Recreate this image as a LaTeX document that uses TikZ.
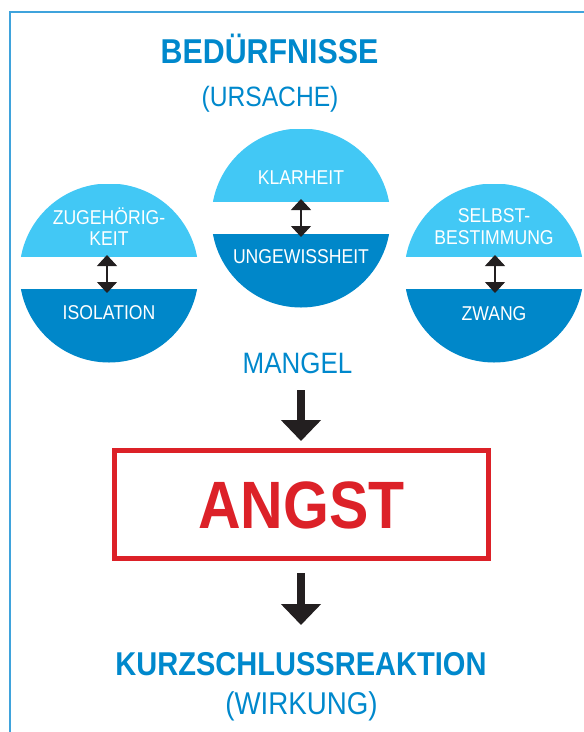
\documentclass[tikz,border=0pt]{standalone}
\usepackage{fontspec}
\setmainfont{Liberation Sans}[FakeStretch=0.88]
\usetikzlibrary{arrows.meta}
\definecolor{tblue}{HTML}{0088CC}
\definecolor{lblue}{HTML}{42C8F5}
\definecolor{dblue}{HTML}{0087C9}
\definecolor{angred}{HTML}{DC2128}
\definecolor{arrk}{HTML}{231F20}
\definecolor{frameblue}{HTML}{3FA3DC}
\tikzset{
  bub/.style={circle, inner sep=0pt, minimum size=179pt,
    path picture={
      \fill[lblue] (path picture bounding box.north west) rectangle ([yshift=16pt]path picture bounding box.east);
      \fill[dblue] ([yshift=-16pt]path picture bounding box.west) rectangle (path picture bounding box.south east);
    }},
  btxt/.style={text=white, font=\fontsize{20}{21}\selectfont, anchor=base, inner sep=0pt},
  dbl/.style={draw=arrk, line width=1.3pt, {Triangle[width=20pt,length=11pt]}-{Triangle[width=20pt,length=11pt]}},
  blockarr/.style={draw=arrk, line width=8pt, -{Triangle[width=39pt,length=21pt]}},
  ttl/.style={text=tblue, anchor=base, inner sep=0pt}
}
\begin{document}
\begin{tikzpicture}[x=1pt,y=-1pt]
\useasboundingbox (0,0) rectangle (584,732);
\draw[frameblue, line width=1.5pt] (9.8,732) -- (9.8,12) -- (584,12);

\node[ttl, font=\fontsize{34.5}{36}\selectfont\bfseries] (t1) at (269.5,63) {BEDÜRFNISSE};
\node[ttl, font=\fontsize{28}{30}\selectfont] (t2) at (270,106) {(URSACHE)};

% circles
\node[bub] (c1) at (109,273) {};
\node[bub] (c2) at (301,218) {};
\node[bub] (c3) at (494,273) {};

\node[btxt] (z1) at (109,224) {ZUGEHÖRIG-};
\node[btxt] (z2) at (109,245) {KEIT};
\node[btxt] (z3) at (109,319) {ISOLATION};
\node[btxt] (k1) at (301,184) {KLARHEIT};
\node[btxt] (k2) at (301,263) {UNGEWISSHEIT};
\node[btxt] (s1) at (494,222) {SELBST-};
\node[btxt] (s2) at (494,244) {BESTIMMUNG};
\node[btxt] (s3) at (494,320) {ZWANG};

\coordinate (d1a) at (107,255); \coordinate (d1b) at (107,293);
\coordinate (d2a) at (301,199); \coordinate (d2b) at (301,237);
\coordinate (d3a) at (495,255); \coordinate (d3b) at (495,293);
\draw[dbl] (d1a) -- (d1b);
\draw[dbl] (d2a) -- (d2b);
\draw[dbl] (d3a) -- (d3b);

\node[ttl, font=\fontsize{29.5}{31}\selectfont] (mangel) at (297.5,373) {MANGEL};

\coordinate (a1s) at (301,390); \coordinate (a1e) at (301,441);
\draw[blockarr] (a1s) -- (a1e);

\node[draw=angred, line width=5pt, minimum width=374pt, minimum height=108pt, inner sep=0pt] (box) at (301.5,504.5) {};
\node[text=angred, anchor=base, inner sep=0pt, font=\fontsize{67}{68}\selectfont\bfseries] (angst) at (301.5,528) {ANGST};

\coordinate (a2s) at (301,573); \coordinate (a2e) at (301,625);
\draw[blockarr] (a2s) -- (a2e);

\node[ttl, font=\fontsize{33}{34}\selectfont\bfseries] (k) at (301,675) {KURZSCHLUSSREAKTION};
\node[ttl, font=\fontsize{31.5}{32}\selectfont] (w) at (301.5,714) {(WIRKUNG)};
\end{tikzpicture}
\end{document}
